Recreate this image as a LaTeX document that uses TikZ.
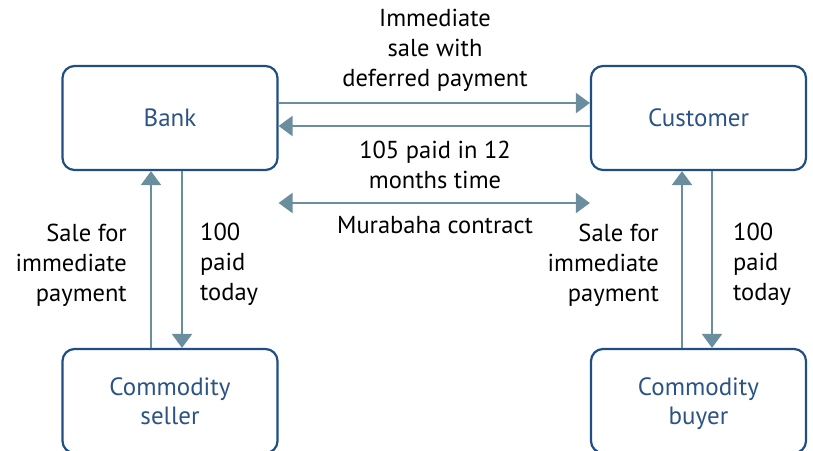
\documentclass[tikz,border=0pt]{standalone}
\usepackage{fontspec}
\setmainfont{PT Sans}
\usetikzlibrary{arrows.meta}
\definecolor{boxblue}{HTML}{1F4E82}
\definecolor{txtblue}{HTML}{2B5384}
\definecolor{arrowc}{HTML}{6B8E9E}
\begin{document}
\begin{tikzpicture}[x=1pt,y=-1pt,
  box/.style={draw=boxblue,line width=2.2pt,rounded corners=12pt,minimum width=215pt,minimum height=104pt,text=txtblue,align=center,font=\fontsize{25}{29}\selectfont,inner sep=0pt,text depth=0pt},
  flow/.style={draw=arrowc,line width=2.4pt,-{Triangle[length=14pt,width=20pt]}},
  flowboth/.style={draw=arrowc,line width=2.4pt,{Triangle[length=14pt,width=20pt]}-{Triangle[length=14pt,width=20pt]}},
  lbl/.style={font=\fontsize{24.5}{30}\selectfont,inner sep=0pt}]
\useasboundingbox (0,0) rectangle (813,450);
\clip (0,0) rectangle (813,450);
\node[box] (bank) at (170,118) {Bank};
\node[box] (customer) at (698.5,118) {Customer};
\node[box] (seller) at (170,401) {Commodity\\seller};
\node[box] (buyer) at (698.5,401) {Commodity\\buyer};
\coordinate (m) at (435,203);
\draw[flow] ([yshift=15pt]bank.east) -- ([yshift=15pt]customer.west);
\draw[flow] ([yshift=-8pt]customer.west) -- ([yshift=-8pt]bank.east);
\draw[flowboth] (bank.east |- m) -- (customer.west |- m);
\draw[flow] ([xshift=-19pt]seller.north) -- ([xshift=-19pt]bank.south);
\draw[flow] ([xshift=12pt]bank.south) -- ([xshift=12pt]seller.north);
\draw[flow] ([xshift=-16.5pt]buyer.north) -- ([xshift=-16.5pt]customer.south);
\draw[flow] ([xshift=13.5pt]customer.south) -- ([xshift=13.5pt]buyer.north);
\node[lbl,align=center] (t1) at (435,50) {Immediate\\sale with\\deferred payment};
\node[lbl,align=center] (t2) at (435,165) {105 paid in 12\\months time};
\node[lbl,align=center] (t3) at (435,225) {Murabaha contract};
\node[lbl,align=right,anchor=east] (l1) at (127,265) {Sale for\\immediate\\payment};
\node[lbl,align=left,anchor=west] (l2) at (200,264) {100\\paid\\today};
\node[lbl,align=right,anchor=east] (l3) at (659,265) {Sale for\\immediate\\payment};
\node[lbl,align=left,anchor=west] (l4) at (733,264) {100\\paid\\today};
\end{tikzpicture}
\end{document}
